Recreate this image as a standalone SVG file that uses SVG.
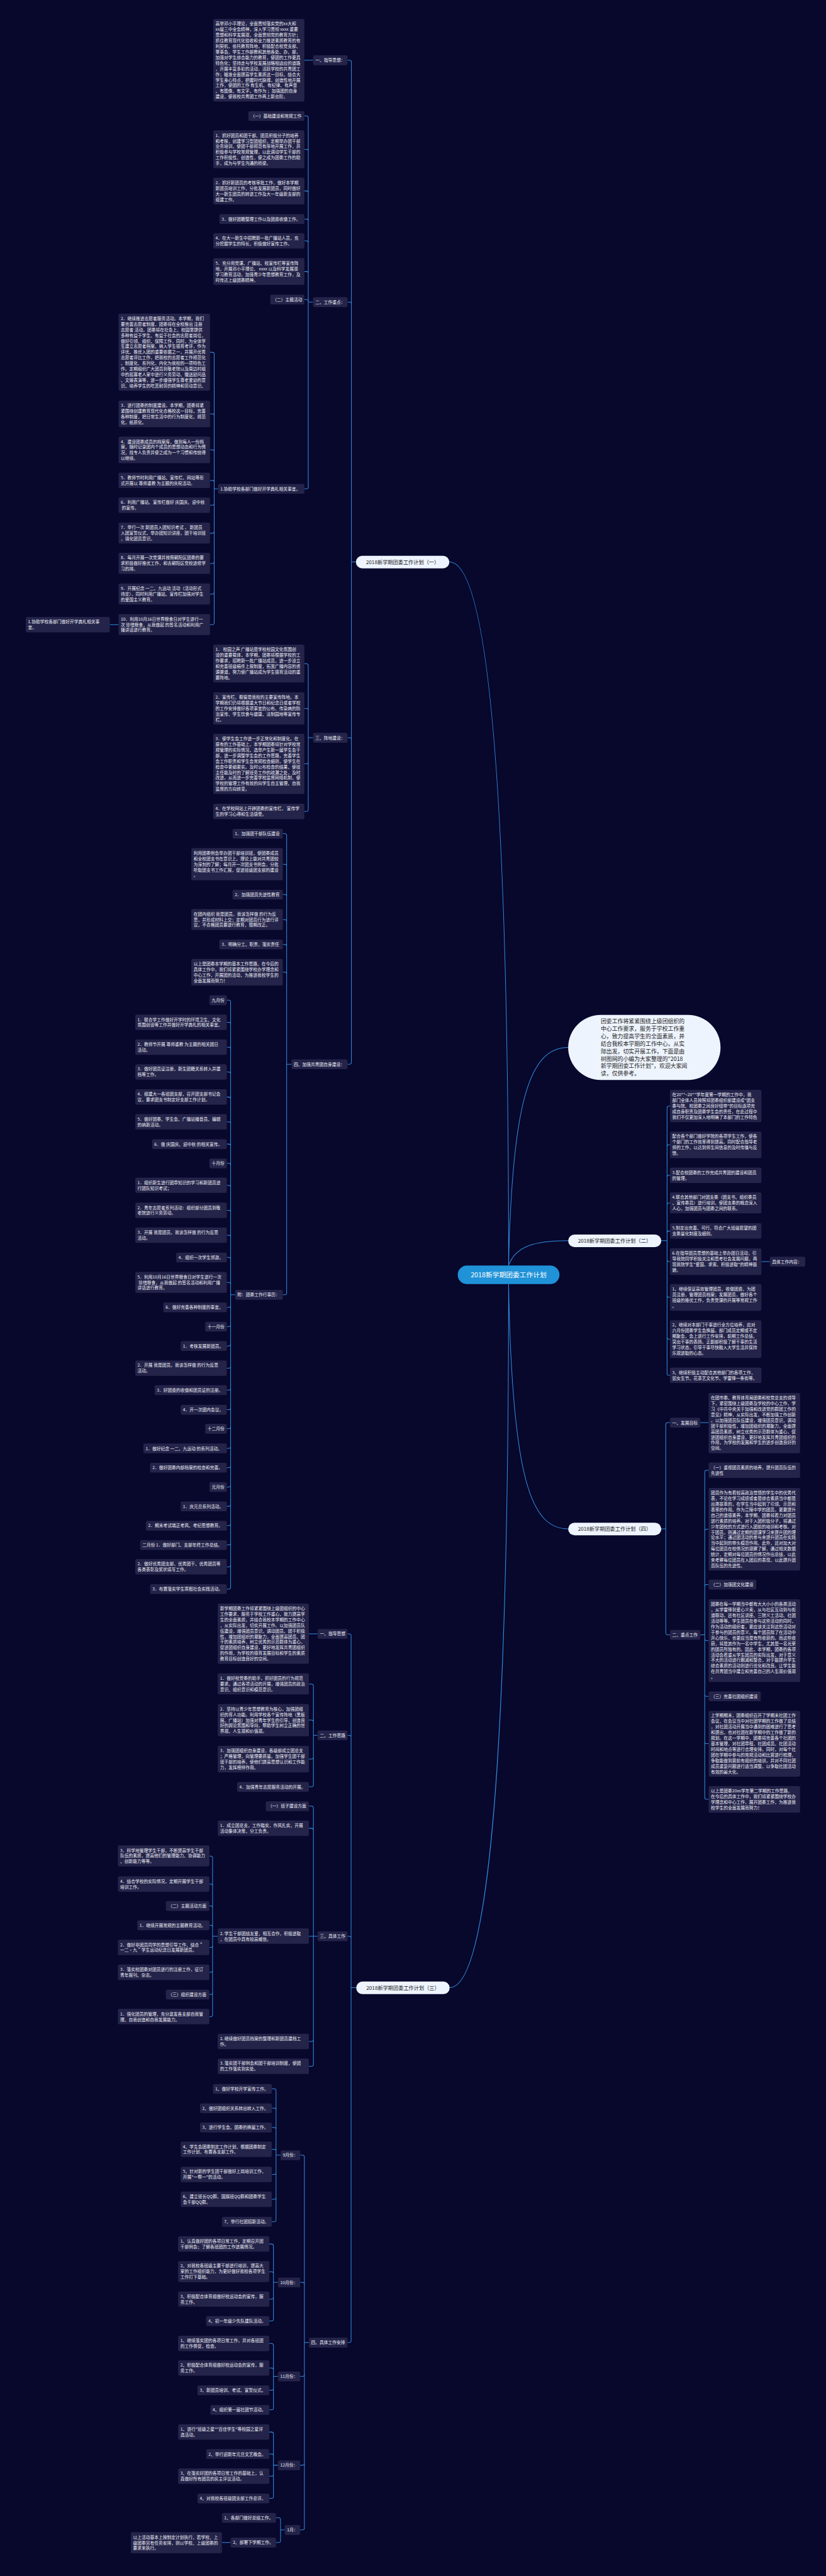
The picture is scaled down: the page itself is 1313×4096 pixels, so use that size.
<svg xmlns="http://www.w3.org/2000/svg" width="1313" height="4096" viewBox="0 0 1313 4096">
<style>
.n rect{fill:#242349;rx:5px;ry:5px}
.n text{font-family:"Noto Sans CJK SC","Noto Sans",sans-serif;font-size:13.2px;fill:#eef0f7}
.c path{fill:none;stroke:#2f8fe0;stroke-width:2}
.lb rect{fill:#eef4fd}
.lb text{font-family:"Noto Sans CJK SC","Noto Sans",sans-serif;font-size:16px;fill:#222;text-anchor:middle}
.ce rect{fill:#1f92d8}
.ce text{font-family:"Noto Sans CJK SC","Noto Sans",sans-serif;font-size:21px;fill:#fff;text-anchor:middle}
.in rect{fill:#eef4fd}
.in text{font-family:"Noto Sans CJK SC","Noto Sans",sans-serif;font-size:17.4px;fill:#222}
</style>
<rect width="1313" height="4096" fill="#08072c"/>
<g transform="scale(0.512)">
<g class="c" id="connectors">
<path d="M1579,3930 C1579,2500 1520,1745 1395,1745"/>
<path d="M1579,3930 C1590,3400 1650,3253 1764,3253"/>
<path d="M1579,3930 C1600,3870 1660,3853 1764,3853"/>
<path d="M1579,3988 C1590,4600 1650,4748 1764,4748"/>
<path d="M1579,3988 C1579,5400 1520,6173 1396,6173"/>
<!-- branch 1 -->
<path d="M1105,1745H1091M1091,193V3299M1091,193Q1091,187 1085,187H1079M1091,944Q1091,938 1085,938H1079M1091,2297Q1091,2291 1085,2291H1079M1091,3299Q1091,3305 1085,3305H1079"/>
<path d="M972,187H945"/>
<path d="M972,938H957M957,366V1512M957,366Q957,360 951,360H945M957,470Q957,464 951,464H945M957,599Q957,593 951,593H945M957,686Q957,680 951,680H945M957,754Q957,748 951,748H945M957,849Q957,843 951,843H945M957,936Q957,930 951,930H945M957,1512Q957,1518 951,1518H945"/>
<path d="M677,1518H665M665,1100V1934M665,1100Q665,1094 659,1094H652M665,1291Q665,1285 659,1285H652M665,1403Q665,1397 659,1397H652M665,1498Q665,1492 659,1492H652M665,1563Q665,1569 659,1569H652M665,1650Q665,1656 659,1656H652M665,1744Q665,1750 659,1750H652M665,1839Q665,1845 659,1845H652M665,1934Q665,1940 659,1940H652"/>
<path d="M368,1940H341"/>
<path d="M972,2291H957M957,2067V2514M957,2067Q957,2061 951,2061H945M957,2206Q957,2200 951,2200H945M957,2366Q957,2372 951,2372H945M957,2514Q957,2520 951,2520H945"/>
<path d="M905,3305H890M890,2595V4015M890,2595Q890,2589 884,2589H878M890,2690Q890,2684 884,2684H878M890,2784Q890,2778 884,2778H878M890,2862Q890,2856 884,2856H878M890,2939Q890,2933 884,2933H878M890,3025Q890,3019 884,3019H878M890,4015Q890,4021 884,4021H878"/>
<path d="M730,4021H716M716,3112V4929M716,3112Q716,3106 710,3106H704M716,3181Q716,3175 710,3175H704M716,3258Q716,3252 710,3252H704M716,3335Q716,3329 710,3329H704M716,3413Q716,3407 710,3407H704M716,3490Q716,3484 710,3484H704M716,3559Q716,3553 710,3553H704M716,3619Q716,3613 710,3613H704M716,3687Q716,3681 710,3681H704M716,3765Q716,3759 710,3759H704M716,3842Q716,3836 710,3836H704M716,3911Q716,3905 710,3905H704M716,3989Q716,3983 710,3983H704M716,4054Q716,4060 710,4060H704M716,4114Q716,4120 710,4120H704M716,4174Q716,4180 710,4180H704M716,4243Q716,4249 710,4249H704M716,4311Q716,4317 710,4317H704M716,4372Q716,4378 710,4378H704M716,4431Q716,4437 710,4437H704M716,4492Q716,4498 710,4498H704M716,4552Q716,4558 710,4558H704M716,4612Q716,4618 710,4618H704M716,4672Q716,4678 710,4678H704M716,4732Q716,4738 710,4738H704M716,4792Q716,4798 710,4798H704M716,4860Q716,4866 710,4866H704M716,4929Q716,4935 710,4935H704"/>
<!-- branch 2 -->
<path d="M2053,3853H2071M2071,3441V4265M2071,3441Q2071,3435 2077,3435H2080M2071,3561Q2071,3555 2077,3555H2080M2071,3656Q2071,3650 2077,3650H2080M2071,3742Q2071,3736 2077,3736H2080M2071,3829Q2071,3823 2077,3823H2080M2071,3912Q2071,3918 2077,3918H2080M2071,4023Q2071,4029 2077,4029H2080M2071,4153Q2071,4159 2077,4159H2080M2071,4265Q2071,4271 2077,4271H2080"/>
<path d="M2364,3918H2390"/>
<!-- branch 4 -->
<path d="M2053,4748H2067M2067,4424V5071M2067,4424Q2067,4418 2073,4418H2080M2067,5071Q2067,5077 2073,5077H2080"/>
<path d="M2174,4418H2200"/>
<path d="M2174,5077H2188M2188,4572V5582M2188,4572Q2188,4566 2194,4566H2200M2188,4755Q2188,4749 2194,4749H2200M2188,4927Q2188,4921 2194,4921H2200M2188,5089Q2188,5095 2194,5095H2200M2188,5262Q2188,5268 2194,5268H2200M2188,5409Q2188,5415 2194,5415H2200M2188,5582Q2188,5588 2194,5588H2200"/>
<!-- branch 3 -->
<path d="M1106,6173H1090M1090,5080V7269M1090,5080Q1090,5074 1084,5074H1079M1090,5395Q1090,5389 1084,5389H1079M1090,6019Q1090,6013 1084,6013H1079M1090,7269Q1090,7275 1084,7275H1079"/>
<path d="M986,5074H959"/>
<path d="M986,5389H973M973,5236V5543M973,5236Q973,5230 967,5230H959M973,5348Q973,5342 967,5342H959M973,5457Q973,5463 967,5463H959M973,5543Q973,5549 967,5549H959"/>
<path d="M986,6013H973M973,5615V6411M973,5615Q973,5609 967,5609H959M973,5684Q973,5678 967,5678H959M973,6013H959M973,6334Q973,6340 967,6340H959M973,6411Q973,6417 967,6417H959"/>
<path d="M676,6013H660M660,5770V6257M660,5770Q660,5764 654,5764H650M660,5857Q660,5851 654,5851H650M660,5925Q660,5919 654,5919H650M660,5985Q660,5979 654,5979H650M660,6042Q660,6048 654,6048H650M660,6119Q660,6125 654,6125H650M660,6188Q660,6194 654,6194H650M660,6257Q660,6263 654,6263H650"/>
<path d="M959,7275H945M945,6699V7851M945,6699Q945,6693 939,6693H932M945,7094Q945,7088 939,7088H932M945,7374Q945,7380 939,7380H932M945,7650Q945,7656 939,7656H932M945,7851Q945,7857 939,7857H932"/>
<path d="M871,6693H857M857,6493V6894M857,6493Q857,6487 851,6487H844M857,6553Q857,6547 851,6547H844M857,6613Q857,6607 851,6607H844M857,6681Q857,6675 851,6675H844M857,6747Q857,6753 851,6753H844M857,6824Q857,6830 851,6830H844M857,6894Q857,6900 851,6900H844"/>
<path d="M863,7088H849M849,6975V7202M849,6975Q849,6969 843,6969H836M849,7061Q849,7055 843,7055H836M849,7134Q849,7140 843,7140H836M849,7202Q849,7208 843,7208H836"/>
<path d="M863,7380H849M849,7284V7478M849,7284Q849,7278 843,7278H836M849,7360Q849,7354 843,7354H836M849,7417Q849,7423 843,7423H836M849,7478Q849,7484 843,7484H836"/>
<path d="M863,7656H849M849,7559V7753M849,7559Q849,7553 843,7553H836M849,7627Q849,7621 843,7621H836M849,7684Q849,7690 843,7690H836M849,7753Q849,7759 843,7759H836"/>
<path d="M884,7857H871M871,7825V7890M871,7825Q871,7819 865,7819H857M871,7890Q871,7896 865,7896H857"/>
<path d="M716,7896H689"/>
</g>

<g id="center" class="ce"><rect x="1421" y="3930" width="316" height="58" rx="29"/><text x="1579" y="3966">2018新学期团委工作计划</text></g>
<g id="intro" class="in"><rect x="1764" y="3152" width="473" height="202" rx="101"/><text x="1865" y="3178"><tspan x="1865">团委工作将紧紧围绕上级团组织的</tspan><tspan x="1865" dy="23.2">中心工作要求，服务于学校工作重</tspan><tspan x="1865" dy="23.2">心，致力提高学生的全面素质，并</tspan><tspan x="1865" dy="23.2">结合我校本学期的工作中心，从实</tspan><tspan x="1865" dy="23.2">际出发，切实开展工作，下面是由</tspan><tspan x="1865" dy="23.2">树图网的小编为大家整理的"2018</tspan><tspan x="1865" dy="23.2">新学期团委工作计划"，欢迎大家阅</tspan><tspan x="1865" dy="23.2">读，仅供参考。</tspan></text></g>
<g id="b1" class="lb"><rect x="1105" y="1726" width="290" height="39" rx="19.5"/><text x="1250" y="1751">2018新学期团委工作计划（一）</text></g>
<g id="b2" class="lb"><rect x="1764" y="3834" width="289" height="39" rx="19.5"/><text x="1908" y="3859">2018新学期团委工作计划（二）</text></g>
<g id="b3" class="lb"><rect x="1106" y="6154" width="290" height="39" rx="19.5"/><text x="1251" y="6179">2018新学期团委工作计划（三）</text></g>
<g id="b4" class="lb"><rect x="1764" y="4729" width="289" height="39" rx="19.5"/><text x="1908" y="4754">2018新学期团委工作计划（四）</text></g>

<!-- Branch 1 nodes -->
<g id="a1" class="n" transform="translate(972,172)"><rect width="107" height="30.4"/><text x="7" y="20">一、指导思想：</text></g>
<g id="a1t" class="n" transform="translate(662,59)"><rect width="283" height="256.6"/><text x="7" y="20"><tspan x="7">高举邓小平理论，全面贯彻落实党的xx大和</tspan><tspan x="7" dy="17.4">xx届三中全会精神，深入学习贯彻 xxxx 重要</tspan><tspan x="7" dy="17.4">思想和科学发展观，全面贯彻党的教育方针；</tspan><tspan x="7" dy="17.4">抓住教育现代化验收和全力推进素质教育的有</tspan><tspan x="7" dy="17.4">利契机，依托教育阵地，积极配合校党支部、</tspan><tspan x="7" dy="17.4">董事会、学生工作部教和其他各处、办、部，</tspan><tspan x="7" dy="17.4">加强对学生综合能力的教育，使团的工作更具</tspan><tspan x="7" dy="17.4">特色化；坚持走与学校发展战略相适应的道路</tspan><tspan x="7" dy="17.4">，开展丰富多彩的活动，活跃学校的共青团工</tspan><tspan x="7" dy="17.4">作；瞄准全面提高学生素质这一目标，结合大</tspan><tspan x="7" dy="17.4">学生身心特点，把握时代脉搏，创造性地开展</tspan><tspan x="7" dy="17.4">工作，使团的工作 有生机、有纪律、有声音</tspan><tspan x="7" dy="17.4">、有图像、有文字、有作为 ；加强团的自身</tspan><tspan x="7" dy="17.4">建设，使我校共青团工作再上新台阶。</tspan></text></g>
<g id="a2" class="n" transform="translate(972,923)"><rect width="107" height="30.4"/><text x="7" y="20">二、工作重点：</text></g>
<g id="a21" class="n" transform="translate(771,345)"><rect width="174" height="30.4"/><text x="7" y="20">（一）基础建设和常规工作</text></g>
<g id="a22" class="n" transform="translate(662,405)"><rect width="283" height="117.4"/><text x="7" y="20"><tspan x="7">1．抓好团员和团干部、团员积极分子的培养</tspan><tspan x="7" dy="17.4">和考核，创建学习型团组织，定期举办团干部</tspan><tspan x="7" dy="17.4">业务培训，使团干部规范有序地开展工作，并</tspan><tspan x="7" dy="17.4">积极参与学校常规管理，以此调动学生干部的</tspan><tspan x="7" dy="17.4">工作积极性、创造性，使之成为团委工作的助</tspan><tspan x="7" dy="17.4">手，成为与学生沟通的桥梁。</tspan></text></g>
<g id="a23" class="n" transform="translate(662,552)"><rect width="283" height="82.6"/><text x="7" y="20"><tspan x="7">2．抓好新团员的考核审批工作，做好本学期</tspan><tspan x="7" dy="17.4">新团员培训工作，分批发展新团员，同时做好</tspan><tspan x="7" dy="17.4">大一新生团员的转进工作及大一年级新支部的</tspan><tspan x="7" dy="17.4">组建工作。</tspan></text></g>
<g id="a24" class="n" transform="translate(681,665)"><rect width="264" height="30.4"/><text x="7" y="20">3．做好团籍整理工作以及团费收缴工作。</text></g>
<g id="a25" class="n" transform="translate(662,724)"><rect width="283" height="47.8"/><text x="7" y="20"><tspan x="7">4．在大一新生中招聘新一批广播站人员，充</tspan><tspan x="7" dy="17.4">分挖掘学生的特长，积极做好宣传工作。</tspan></text></g>
<g id="a26" class="n" transform="translate(662,802)"><rect width="283" height="82.6"/><text x="7" y="20"><tspan x="7">5．充分用党课、广播站、校宣传栏等宣传阵</tspan><tspan x="7" dy="17.4">地，开展邓小平理论、 xxxx 以及科学发展观</tspan><tspan x="7" dy="17.4">学习教育活动，加强青少年思想教育工作，及</tspan><tspan x="7" dy="17.4">时传达上级团委精神。</tspan></text></g>
<g id="a27" class="n" transform="translate(839,915)"><rect width="106" height="30.4"/><text x="7" y="20">（二）主题活动</text></g>
<g id="a28" class="n" transform="translate(677,1503)"><rect width="268" height="30.4"/><text x="7" y="20">1.协助学校各部门做好开学典礼相关事宜。</text></g>
<g id="a281" class="n" transform="translate(368,974)"><rect width="284" height="239.2"/><text x="7" y="20"><tspan x="7">2．继续推进志愿者服务活动。本学期，我们</tspan><tspan x="7" dy="17.4">要完善志愿者制度，团委将在全校推出 注册</tspan><tspan x="7" dy="17.4">志愿者 活动。团委将在社会上、校园里提供</tspan><tspan x="7" dy="17.4">多种有益于学生、有益于社会的志愿者岗位，</tspan><tspan x="7" dy="17.4">做好引领、组织、保障工作，同时，为全体学</tspan><tspan x="7" dy="17.4">生建立志愿者档案，纳入学生德育考评，作为</tspan><tspan x="7" dy="17.4">评优、推优入团的重要依据之一，并展开优秀</tspan><tspan x="7" dy="17.4">志愿者评比工作，把我校的志愿者工作规范化</tspan><tspan x="7" dy="17.4">、制度化、系列化，内化为我校的一项特色工</tspan><tspan x="7" dy="17.4">作。定期组织广大团员到敬老院以及周边村组</tspan><tspan x="7" dy="17.4">中的孤寡老人家中进行义务劳动、赠送慰问品</tspan><tspan x="7" dy="17.4">、文娱表演等，进一步增强学生尊老爱幼的意</tspan><tspan x="7" dy="17.4">识、培养学生的吃苦耐劳的精神和劳动意识。</tspan></text></g>
<g id="a282" class="n" transform="translate(368,1244)"><rect width="284" height="82.6"/><text x="7" y="20"><tspan x="7">3．进行团委的制度建设。本学期，团委将紧</tspan><tspan x="7" dy="17.4">紧围绕创建教育现代化合格校这一目标，完善</tspan><tspan x="7" dy="17.4">各种制度，把日常生活中的行为制度化，规范</tspan><tspan x="7" dy="17.4">化，纸质化。</tspan></text></g>
<g id="a283" class="n" transform="translate(368,1356)"><rect width="284" height="82.6"/><text x="7" y="20"><tspan x="7">4．建设团委成员的档案库，做到每人一份档</tspan><tspan x="7" dy="17.4">案，随时记录团内个成员的思想动态和行为情</tspan><tspan x="7" dy="17.4">况，找专人负责并使之成为一个习惯和传统得</tspan><tspan x="7" dy="17.4">以继续。</tspan></text></g>
<g id="a284" class="n" transform="translate(368,1468)"><rect width="284" height="47.8"/><text x="7" y="20"><tspan x="7">5．教师节时利用广播站、宣传栏、网站等形</tspan><tspan x="7" dy="17.4">式开展以 尊师重教 为主题的庆祝活动。</tspan></text></g>
<g id="a285" class="n" transform="translate(368,1545)"><rect width="284" height="47.8"/><text x="7" y="20"><tspan x="7">6．利用广播站、宣传栏做好 庆国庆、迎中秋</tspan><tspan x="7" dy="17.4"> 的宣传。</tspan></text></g>
<g id="a286" class="n" transform="translate(368,1623)"><rect width="284" height="65.2"/><text x="7" y="20"><tspan x="7">7．举行一次 新团员入团知识考试 ， 新团员</tspan><tspan x="7" dy="17.4">入团宣誓仪式，举办团知识讲座，团干培训班</tspan><tspan x="7" dy="17.4">，强化团员意识。</tspan></text></g>
<g id="a287" class="n" transform="translate(368,1717)"><rect width="284" height="65.2"/><text x="7" y="20"><tspan x="7">8．每月开展一次党课并按照朝阳区团委的要</tspan><tspan x="7" dy="17.4">求积极做好推优工作，和去朝阳区党校进修学</tspan><tspan x="7" dy="17.4">习的排。</tspan></text></g>
<g id="a288" class="n" transform="translate(368,1812)"><rect width="284" height="65.2"/><text x="7" y="20"><tspan x="7">9．开展纪念 一二、九运动 活动（活动形式</tspan><tspan x="7" dy="17.4">待定），同时利用广播站、宣传栏加强对学生</tspan><tspan x="7" dy="17.4">的爱国主义教育。</tspan></text></g>
<g id="a289" class="n" transform="translate(368,1907)"><rect width="284" height="65.2"/><text x="7" y="20"><tspan x="7">10．利用10月16日世界粮食日对学生进行一</tspan><tspan x="7" dy="17.4">次 珍惜粮食，从我做起 的签名活动和利用广</tspan><tspan x="7" dy="17.4">播讲话进行教育。</tspan></text></g>
<g id="a2891" class="n" transform="translate(80,1916)"><rect width="261" height="47.8"/><text x="7" y="20"><tspan x="7">1.协助学校各部门做好开学典礼相关事</tspan><tspan x="7" dy="17.4">宜。</tspan></text></g>
<g id="a3" class="n" transform="translate(972,2276)"><rect width="107" height="30.4"/><text x="7" y="20">三、阵地建设：</text></g>
<g id="a31" class="n" transform="translate(662,2002)"><rect width="283" height="117.4"/><text x="7" y="20"><tspan x="7">1． 校园之声 广播站是学校校园文化氛围创</tspan><tspan x="7" dy="17.4">设的重要载体，本学期，团委将根据学校的工</tspan><tspan x="7" dy="17.4">作要求，招聘新一批广播站成员，进一步设立</tspan><tspan x="7" dy="17.4">和完善班级稿件上报制度，拓宽广播内容的资</tspan><tspan x="7" dy="17.4">源渠道，努力使广播站成为学生德育活动的重</tspan><tspan x="7" dy="17.4">要阵地。</tspan></text></g>
<g id="a32" class="n" transform="translate(662,2150)"><rect width="283" height="100"/><text x="7" y="20"><tspan x="7">2．宣传栏、橱窗是我校的主要宣传阵地。本</tspan><tspan x="7" dy="17.4">学期我们仍将根据重大节日和纪念日或者学校</tspan><tspan x="7" dy="17.4">的工作安排做好各项事宜的公布、传染病的防</tspan><tspan x="7" dy="17.4">治宣传、学生饮食与健康、法制园地等宣传专</tspan><tspan x="7" dy="17.4">栏。</tspan></text></g>
<g id="a33" class="n" transform="translate(662,2279)"><rect width="283" height="187"/><text x="7" y="20"><tspan x="7">3．使学生会工作进一步正常化和制度化。在</tspan><tspan x="7" dy="17.4">原有的工作基础上，本学期团委将针对学校常</tspan><tspan x="7" dy="17.4">规管理的实际情况，选举产生新一届学生会干</tspan><tspan x="7" dy="17.4">部，进一步调整学生会的工作思路，完善学生</tspan><tspan x="7" dy="17.4">会工作职责和学生会常规检查细则，使学生在</tspan><tspan x="7" dy="17.4">检查中更细更实。及时公布检查的结果，使班</tspan><tspan x="7" dy="17.4">主任能及时的了解班务工作的疏漏之处，及时</tspan><tspan x="7" dy="17.4">改进。从而进一步完善学校监督网络机制，使</tspan><tspan x="7" dy="17.4">学校的管理工作有效的向学生自主管理、自我</tspan><tspan x="7" dy="17.4">监督的方向转变。</tspan></text></g>
<g id="a34" class="n" transform="translate(662,2496)"><rect width="283" height="47.8"/><text x="7" y="20"><tspan x="7">4．在学校网站上开辟团委的宣传栏， 宣传学</tspan><tspan x="7" dy="17.4">生的学习心得和生活感受。</tspan></text></g>
<g id="a4" class="n" transform="translate(905,3290)"><rect width="174" height="30.4"/><text x="7" y="20">四、加强共青团自身建设：</text></g>
<g id="a41" class="n" transform="translate(722,2574)"><rect width="156" height="30.4"/><text x="7" y="20">1．加强团干部队伍建设</text></g>
<g id="a42" class="n" transform="translate(594,2634)"><rect width="284" height="100"/><text x="7" y="20"><tspan x="7">利用团委例会举办团干部培训班，使团委成员</tspan><tspan x="7" dy="17.4">和全校团支书在意识上、理论上能对共青团较</tspan><tspan x="7" dy="17.4">为深刻的了解；每月开一次团支书例会，分批</tspan><tspan x="7" dy="17.4">听取团支书工作汇报，促进班级团支部的建设</tspan><tspan x="7" dy="17.4">。</tspan></text></g>
<g id="a43" class="n" transform="translate(722,2763)"><rect width="156" height="30.4"/><text x="7" y="20">2．加强团员先进性教育</text></g>
<g id="a44" class="n" transform="translate(594,2823)"><rect width="284" height="65.2"/><text x="7" y="20"><tspan x="7">在团内组织 我是团员，我该怎样做 的行为反</tspan><tspan x="7" dy="17.4">思，并形成材料上交；定期对团员行为进行评</tspan><tspan x="7" dy="17.4">议，不合格团员要进行教育，限期改正。</tspan></text></g>
<g id="a45" class="n" transform="translate(681,2918)"><rect width="197" height="30.4"/><text x="7" y="20">3．明确分工、职责，落实责任</text></g>
<g id="a46" class="n" transform="translate(594,2978)"><rect width="284" height="82.6"/><text x="7" y="20"><tspan x="7">以上是团委本学期的基本工作思路，在今后的</tspan><tspan x="7" dy="17.4">具体工作中，我们将紧紧围绕学校办学理念和</tspan><tspan x="7" dy="17.4">中心工作，开展团的活动，为推进我校学生的</tspan><tspan x="7" dy="17.4">全面发展而努力！</tspan></text></g>
<g id="a47" class="n" transform="translate(730,4006)"><rect width="148" height="30.4"/><text x="7" y="20">附：团委工作行事历：</text></g>
<g id="m9" class="n" transform="translate(650,3091)"><rect width="54" height="30.4"/><text x="7" y="20">九月份</text></g>
<g id="m91" class="n" transform="translate(420,3151)"><rect width="284" height="47.8"/><text x="7" y="20"><tspan x="7">1．联合学工作做好开学时的环境卫生、文化</tspan><tspan x="7" dy="17.4">氛围创设等工作并做好开学典礼的相关事宜。</tspan></text></g>
<g id="m92" class="n" transform="translate(420,3228)"><rect width="284" height="47.8"/><text x="7" y="20"><tspan x="7">2．教师节开展 尊师重教 为主题的相关团日</tspan><tspan x="7" dy="17.4">活动。</tspan></text></g>
<g id="m93" class="n" transform="translate(420,3305)"><rect width="284" height="47.8"/><text x="7" y="20"><tspan x="7">3．做好团员证注册，新生团籍关系转入并建</tspan><tspan x="7" dy="17.4">档等工作。</tspan></text></g>
<g id="m94" class="n" transform="translate(420,3383)"><rect width="284" height="47.8"/><text x="7" y="20"><tspan x="7">4．组建大一各班团支部，召开团支部书记会</tspan><tspan x="7" dy="17.4">议，要求团支书制定好支部工作计划。</tspan></text></g>
<g id="m95" class="n" transform="translate(420,3460)"><rect width="284" height="47.8"/><text x="7" y="20"><tspan x="7">5．做好团委、学生会、广播站播音员、编辑</tspan><tspan x="7" dy="17.4">的纳新活动。</tspan></text></g>
<g id="m96" class="n" transform="translate(472,3538)"><rect width="232" height="30.4"/><text x="7" y="20">6．做 庆国庆、迎中秋 的相关宣传。</text></g>
<g id="m10" class="n" transform="translate(650,3598)"><rect width="54" height="30.4"/><text x="7" y="20">十月份</text></g>
<g id="m101" class="n" transform="translate(420,3657)"><rect width="284" height="47.8"/><text x="7" y="20"><tspan x="7">1．组织新生进行团章知识的学习和新团员进</tspan><tspan x="7" dy="17.4">行团队知识考试；</tspan></text></g>
<g id="m102" class="n" transform="translate(420,3735)"><rect width="284" height="47.8"/><text x="7" y="20"><tspan x="7">2．青年志愿者系列活动：组织部分团员到敬</tspan><tspan x="7" dy="17.4">老院进行义务劳动。</tspan></text></g>
<g id="m103" class="n" transform="translate(420,3812)"><rect width="284" height="47.8"/><text x="7" y="20"><tspan x="7">3．开展 我是团员，我该怎样做 的行为反思</tspan><tspan x="7" dy="17.4">活动。</tspan></text></g>
<g id="m104" class="n" transform="translate(547,3890)"><rect width="157" height="30.4"/><text x="7" y="20">4．组织一次学生郊游。</text></g>
<g id="m105" class="n" transform="translate(420,3950)"><rect width="284" height="65.2"/><text x="7" y="20"><tspan x="7">5．利用10月16日世界粮食日对学生进行一次</tspan><tspan x="7" dy="17.4"> 珍惜粮食，从我做起 的签名活动和利用广播</tspan><tspan x="7" dy="17.4">讲话进行教育。</tspan></text></g>
<g id="m106" class="n" transform="translate(507,4045)"><rect width="197" height="30.4"/><text x="7" y="20">6．做好完善各种制度的事宜。</text></g>
<g id="m11" class="n" transform="translate(637,4105)"><rect width="67" height="30.4"/><text x="7" y="20">十一月份</text></g>
<g id="m111" class="n" transform="translate(561,4165)"><rect width="143" height="30.4"/><text x="7" y="20">1．考核发展新团员。</text></g>
<g id="m112" class="n" transform="translate(420,4225)"><rect width="284" height="47.8"/><text x="7" y="20"><tspan x="7">2．开展 我是团员，我该怎样做 的行为反思</tspan><tspan x="7" dy="17.4">活动。</tspan></text></g>
<g id="m113" class="n" transform="translate(480,4302)"><rect width="224" height="30.4"/><text x="7" y="20">3．好团费的收缴和团员证的注册。</text></g>
<g id="m114" class="n" transform="translate(561,4363)"><rect width="143" height="30.4"/><text x="7" y="20">4．开一次团内会议。</text></g>
<g id="m12" class="n" transform="translate(637,4422)"><rect width="67" height="30.4"/><text x="7" y="20">十二月份</text></g>
<g id="m121" class="n" transform="translate(445,4483)"><rect width="259" height="30.4"/><text x="7" y="20">1．做好纪念 一二、九运动 的系列活动。</text></g>
<g id="m122" class="n" transform="translate(466,4543)"><rect width="238" height="30.4"/><text x="7" y="20">2．做好团委内部档案的检查和完善。</text></g>
<g id="m1" class="n" transform="translate(650,4603)"><rect width="54" height="30.4"/><text x="7" y="20">元月份</text></g>
<g id="m1a" class="n" transform="translate(561,4663)"><rect width="143" height="30.4"/><text x="7" y="20">1．庆元旦系列活动。</text></g>
<g id="m1b" class="n" transform="translate(453,4723)"><rect width="251" height="30.4"/><text x="7" y="20">2．期末考试端正考风、考纪思想教育。</text></g>
<g id="m2a" class="n" transform="translate(435,4783)"><rect width="269" height="30.4"/><text x="7" y="20">二月份 1．做好部门、支部年终工作总结。</text></g>
<g id="m2b" class="n" transform="translate(420,4842)"><rect width="284" height="47.8"/><text x="7" y="20"><tspan x="7">2．做好优秀团支部、优秀团干、优秀团员等</tspan><tspan x="7" dy="17.4">各类表彰及奖状填写工作。</tspan></text></g>
<g id="m2c" class="n" transform="translate(466,4920)"><rect width="238" height="30.4"/><text x="7" y="20">3．布置落实学生寒假社会实践活动。</text></g>

<!-- Branch 2 nodes -->
<g id="c1" class="n" transform="translate(2080,3385)"><rect width="284" height="100"/><text x="7" y="20"><tspan x="7">在20**~20**学年度第一学期的工作中，我</tspan><tspan x="7" dy="17.4">部门全体人员按照将团委组织部建设成"团支</tspan><tspan x="7" dy="17.4">委与院、校团委之间良好纽带"的目标逐项完</tspan><tspan x="7" dy="17.4">成自身职责及团委学生会的责任，在此过程中</tspan><tspan x="7" dy="17.4">我们不仅更加深入地明确了本部门的工作特色</tspan></text></g>
<g id="c2" class="n" transform="translate(2080,3514)"><rect width="284" height="82.6"/><text x="7" y="20"><tspan x="7">配合各个部门做好学院的各项学生工作，使各</tspan><tspan x="7" dy="17.4">个部门的工作效率得到提高。同时配合指导老</tspan><tspan x="7" dy="17.4">师的工作，以达到师生间信息的及时传播与反</tspan><tspan x="7" dy="17.4">馈。</tspan></text></g>
<g id="c3" class="n" transform="translate(2080,3626)"><rect width="284" height="47.8"/><text x="7" y="20"><tspan x="7">3.配合校团委的工作完成共青团的建设和团员</tspan><tspan x="7" dy="17.4">的管理。</tspan></text></g>
<g id="c4" class="n" transform="translate(2080,3703)"><rect width="284" height="65.2"/><text x="7" y="20"><tspan x="7">4.联合其他部门对团支委（团支书、组织委员</tspan><tspan x="7" dy="17.4">、宣传委员）进行培训，使团支委的概念深入</tspan><tspan x="7" dy="17.4">人心，加强团员与团委之间的联系。</tspan></text></g>
<g id="c5" class="n" transform="translate(2080,3799)"><rect width="284" height="47.8"/><text x="7" y="20"><tspan x="7">5.制定出完善、可行、符合广大班级愿望的团</tspan><tspan x="7" dy="17.4">支委量化制度及细则。</tspan></text></g>
<g id="c6" class="n" transform="translate(2080,3877)"><rect width="284" height="82.6"/><text x="7" y="20"><tspan x="7">6.在指导团员思想的基础上举办团日活动，引</tspan><tspan x="7" dy="17.4">导我院同学积极关注和思考社会发展问题，再</tspan><tspan x="7" dy="17.4">现我院学生"爱国、求索、积极进取"的精神面</tspan><tspan x="7" dy="17.4">貌。</tspan></text></g>
<g id="c61" class="n" transform="translate(2390,3903)"><rect width="110" height="30.4"/><text x="7" y="20">具体工作内容：</text></g>
<g id="c7" class="n" transform="translate(2080,3988)"><rect width="284" height="82.6"/><text x="7" y="20"><tspan x="7">1、继续保证高效管理团员，收缴团费，为团</tspan><tspan x="7" dy="17.4">员注册，管理团员档案；发展团员，做好各个</tspan><tspan x="7" dy="17.4">班级的推优工作，负责党课的开展等常规工作</tspan><tspan x="7" dy="17.4">。</tspan></text></g>
<g id="c8" class="n" transform="translate(2080,4100)"><rect width="284" height="117.4"/><text x="7" y="20"><tspan x="7">2、继续对本部门干事进行全方位培养，应对</tspan><tspan x="7" dy="17.4">六月份团委学生会换届。部门成员定期或不定</tspan><tspan x="7" dy="17.4">期聚会，会上进行工作安排，前期工作总结，</tspan><tspan x="7" dy="17.4">突出干事的表扬。正副部积极了解干事的生活</tspan><tspan x="7" dy="17.4">学习状态，引导干事尽快融入大学生活并保持</tspan><tspan x="7" dy="17.4">乐观进取的心态。</tspan></text></g>
<g id="c9" class="n" transform="translate(2080,4247)"><rect width="284" height="47.8"/><text x="7" y="20"><tspan x="7">3、继续积极主动配合其他部门的各项工作，</tspan><tspan x="7" dy="17.4">如女生节、花茶艺文化节、学雷锋一条街等。</tspan></text></g>

<!-- Branch 4 nodes -->
<g id="d1" class="n" transform="translate(2080,4403)"><rect width="94" height="30.4"/><text x="7" y="20">一、发展目标</text></g>
<g id="d1t" class="n" transform="translate(2200,4326)"><rect width="284" height="187"/><text x="7" y="20"><tspan x="7">在团市委、教育体育局团委和校党总支的领导</tspan><tspan x="7" dy="17.4">下，紧密围绕上级团委及学校的中心工作，学</tspan><tspan x="7" dy="17.4">习《中共中央关于加强和改进党的群团工作的</tspan><tspan x="7" dy="17.4">意见》精神，从实际出发，不断加强工作创新</tspan><tspan x="7" dy="17.4">。以加强团员队伍建设，增强团员意识，调动</tspan><tspan x="7" dy="17.4">团干部积极性，增加团组织的凝聚力，全面提</tspan><tspan x="7" dy="17.4">高团员素质，树立优秀的示范群体为重心，促</tspan><tspan x="7" dy="17.4">进团组织自身建设，更好地发挥共青团组织的</tspan><tspan x="7" dy="17.4">作用，为学校的发展和学生的进步创造良好的</tspan><tspan x="7" dy="17.4">空间。</tspan></text></g>
<g id="d2" class="n" transform="translate(2080,5062)"><rect width="94" height="30.4"/><text x="7" y="20">二、重点工作</text></g>
<g id="d21" class="n" transform="translate(2200,4542)"><rect width="284" height="47.8"/><text x="7" y="20"><tspan x="7">（一）重视团员素质的培养，提升团员队伍的</tspan><tspan x="7" dy="17.4">先进性</tspan></text></g>
<g id="d22" class="n" transform="translate(2200,4621)"><rect width="284" height="256.6"/><text x="7" y="20"><tspan x="7">团员作为有着较高政治觉悟的学生中的优秀代</tspan><tspan x="7" dy="17.4">表，不论在学习成绩或者是综合素质当中都是</tspan><tspan x="7" dy="17.4">出类拔萃的，在学生当中起到了引领、示范和</tspan><tspan x="7" dy="17.4">表率的作用。作为兰陵中学的团员，更要提升</tspan><tspan x="7" dy="17.4">自己的道德素养。本学期，团委将着力对团员</tspan><tspan x="7" dy="17.4">进行素质的培养。对于入团积极分子，将通过</tspan><tspan x="7" dy="17.4">少年团校的方式进行入团前的培训和考核。对</tspan><tspan x="7" dy="17.4">于团员，则通过定期的团课学习来提升团的理</tspan><tspan x="7" dy="17.4">论水平；通过团活动的参与来提升团员在实践</tspan><tspan x="7" dy="17.4">当中起到的带头模范作用。此外，还对加大对</tspan><tspan x="7" dy="17.4">每位团员在校情况的观察了解，通过相关数据</tspan><tspan x="7" dy="17.4">统计，定期对每位团员的情况作出总结，以此</tspan><tspan x="7" dy="17.4">来考察每位团员在入团后的表现，以此提升团</tspan><tspan x="7" dy="17.4">员队伍的先进性。</tspan></text></g>
<g id="d23" class="n" transform="translate(2200,4906)"><rect width="148" height="30.4"/><text x="7" y="20">（二）加强团文化建设</text></g>
<g id="d24" class="n" transform="translate(2200,4967)"><rect width="284" height="256.6"/><text x="7" y="20"><tspan x="7">团委在每一学期当中都有大大小小的各类活动</tspan><tspan x="7" dy="17.4">，从学雷锋到爱心义卖，从与社区互动到与街</tspan><tspan x="7" dy="17.4">道联动，还有社区讲座、三院义工活动、社团</tspan><tspan x="7" dy="17.4">活动等等。学生团员在参与这些活动的同时，</tspan><tspan x="7" dy="17.4">作为活动的组织者，更应该关注到这些活动对</tspan><tspan x="7" dy="17.4">于参与的团员的意义。每个团员除了在活动中</tspan><tspan x="7" dy="17.4">开心快乐，也更应当是有所收获的。而这些收</tspan><tspan x="7" dy="17.4">获，将是其作为一名中学生，尤其是一名光荣</tspan><tspan x="7" dy="17.4">的团员所独有的。因此，本学期，团委的各项</tspan><tspan x="7" dy="17.4">活动会着重从学生团员的实际出发，对于意义</tspan><tspan x="7" dy="17.4">不大的活动进行删减和整合，对于能提升学生</tspan><tspan x="7" dy="17.4">综合素质的活动则进行优化和改良。让学生能</tspan><tspan x="7" dy="17.4">在共青团当中建立和完善自己的人生观价值观</tspan><tspan x="7" dy="17.4">。</tspan></text></g>
<g id="d25" class="n" transform="translate(2200,5253)"><rect width="162" height="30.4"/><text x="7" y="20">（三）完善社团组织建设</text></g>
<g id="d26" class="n" transform="translate(2200,5313)"><rect width="284" height="204.4"/><text x="7" y="20"><tspan x="7">上学期期末，团委组织召开了学期末社团工作</tspan><tspan x="7" dy="17.4">会议，在会议当中对社团学期的工作做了总结</tspan><tspan x="7" dy="17.4">，对社团活动开展当中遇到的困难进行了思考</tspan><tspan x="7" dy="17.4">和提出，也对社团在新学期中的工作做了新的</tspan><tspan x="7" dy="17.4">规划。在这一学期中，团委将完善各个社团的</tspan><tspan x="7" dy="17.4">基本管理，对社团章程、社团成员、社团活动</tspan><tspan x="7" dy="17.4">时间和地点等进行合理安排。同时，对每个社</tspan><tspan x="7" dy="17.4">团在学期中参与的常规活动和比赛进行梳理，</tspan><tspan x="7" dy="17.4">争取能做到赛前有组织的培训，并对不同社团</tspan><tspan x="7" dy="17.4">成员重复问题进行适当调整，以争取社团活动</tspan><tspan x="7" dy="17.4">有效的最大化。</tspan></text></g>
<g id="d27" class="n" transform="translate(2200,5547)"><rect width="284" height="82.6"/><text x="7" y="20"><tspan x="7">以上是团委20xx学年第二学期的工作思路，</tspan><tspan x="7" dy="17.4">在今后的具体工作中，我们将紧紧围绕学校办</tspan><tspan x="7" dy="17.4">学理念和中心工作，展开团委工作，为推进我</tspan><tspan x="7" dy="17.4">校学生的全面发展而努力！</tspan></text></g>

<!-- Branch 3 nodes -->
<g id="e1" class="n" transform="translate(986,5059)"><rect width="93" height="30.4"/><text x="7" y="20">一、指导思想</text></g>
<g id="e1t" class="n" transform="translate(676,4980)"><rect width="283" height="187"/><text x="7" y="20"><tspan x="7">新学期团委工作将紧紧围绕上级团组织的中心</tspan><tspan x="7" dy="17.4">工作要求，服务于学校工作重心，致力提高学</tspan><tspan x="7" dy="17.4">生的全面素质，并结合我校本学期的工作中心</tspan><tspan x="7" dy="17.4">，从实际出发，切实开展工作。以加强团员队</tspan><tspan x="7" dy="17.4">伍建设，增强团员意识，调动团员、团干积极</tspan><tspan x="7" dy="17.4">性，增加团组织的凝聚力，全面提高团员、团</tspan><tspan x="7" dy="17.4">干的素质培养，树立优秀的示范群体为重心，</tspan><tspan x="7" dy="17.4">促进团组织自身建设，更好地发挥共青团组织</tspan><tspan x="7" dy="17.4">的作用，为学校的德育发展目标和学生的素质</tspan><tspan x="7" dy="17.4">教育目标创造良好的空间。</tspan></text></g>
<g id="e2" class="n" transform="translate(986,5374)"><rect width="93" height="30.4"/><text x="7" y="20">二、工作思路</text></g>
<g id="e21" class="n" transform="translate(676,5197)"><rect width="283" height="65.2"/><text x="7" y="20"><tspan x="7">1．做好校党委的助手，抓好团员的行为规范</tspan><tspan x="7" dy="17.4">要求。通过各项活动的开展，增强团员的政治</tspan><tspan x="7" dy="17.4">意识、组织意识和模范意识。</tspan></text></g>
<g id="e22" class="n" transform="translate(676,5292)"><rect width="283" height="100"/><text x="7" y="20"><tspan x="7">2．坚持以青少年思想教育为核心，加强团组</tspan><tspan x="7" dy="17.4">织的育人功能。利用学校各个宣传阵地（黑板</tspan><tspan x="7" dy="17.4">报、广播站）加强对青年学生的引导，创造良</tspan><tspan x="7" dy="17.4">好的舆论氛围和导向，帮助学生树立正确的世</tspan><tspan x="7" dy="17.4">界观、人生观和价值观。</tspan></text></g>
<g id="e23" class="n" transform="translate(676,5422)"><rect width="283" height="82.6"/><text x="7" y="20"><tspan x="7">3．加强团组织自身建设，各级部成立团总支</tspan><tspan x="7" dy="17.4">；严格管理，向管理要质量。加强学生团干部</tspan><tspan x="7" dy="17.4">班干部的培养，使他们提高思想认识和工作能</tspan><tspan x="7" dy="17.4">力，发挥榜样作用。</tspan></text></g>
<g id="e24" class="n" transform="translate(736,5534)"><rect width="223" height="30.4"/><text x="7" y="20">4．加强青年志愿服务活动的开展。</text></g>
<g id="e3" class="n" transform="translate(986,5998)"><rect width="93" height="30.4"/><text x="7" y="20">三、具体工作</text></g>
<g id="e31" class="n" transform="translate(825,5594)"><rect width="134" height="30.4"/><text x="7" y="20">（一）班子建设方面</text></g>
<g id="e32" class="n" transform="translate(676,5654)"><rect width="283" height="47.8"/><text x="7" y="20"><tspan x="7">1．成立团总支，工作踏实，作风扎实，开展</tspan><tspan x="7" dy="17.4">活动集体决策，分工负责。</tspan></text></g>
<g id="e33" class="n" transform="translate(676,5989)"><rect width="283" height="47.8"/><text x="7" y="20"><tspan x="7">2. 学生干部团结友爱，相互合作，积极进取</tspan><tspan x="7" dy="17.4">，在团员中具有较高威信。</tspan></text></g>
<g id="e331" class="n" transform="translate(366,5731)"><rect width="284" height="65.2"/><text x="7" y="20"><tspan x="7">3．科学地管理学生干部，不断提高学生干部</tspan><tspan x="7" dy="17.4">队伍的素质，提高他们的管理能力、协调能力</tspan><tspan x="7" dy="17.4">、创新能力等等。</tspan></text></g>
<g id="e332" class="n" transform="translate(366,5827)"><rect width="284" height="47.8"/><text x="7" y="20"><tspan x="7">4．结合学校的实际情况，定期开展学生干部</tspan><tspan x="7" dy="17.4">培训工作。</tspan></text></g>
<g id="e333" class="n" transform="translate(515,5904)"><rect width="135" height="30.4"/><text x="7" y="20">（二）主题活动方面</text></g>
<g id="e334" class="n" transform="translate(426,5964)"><rect width="224" height="30.4"/><text x="7" y="20">1．继续开展常规的主题教育活动。</text></g>
<g id="e335" class="n" transform="translate(366,6024)"><rect width="284" height="47.8"/><text x="7" y="20"><tspan x="7">2．做好非团员同学的思想引导工作，结合＂</tspan><tspan x="7" dy="17.4">一二•九＂学生运动纪念日发展新团员。</tspan></text></g>
<g id="e336" class="n" transform="translate(366,6101)"><rect width="284" height="47.8"/><text x="7" y="20"><tspan x="7">3．落实校团委对团员进行的注册工作，征订</tspan><tspan x="7" dy="17.4">青年报刊、杂志。</tspan></text></g>
<g id="e337" class="n" transform="translate(515,6179)"><rect width="135" height="30.4"/><text x="7" y="20">（三）组织建设方面</text></g>
<g id="e338" class="n" transform="translate(366,6239)"><rect width="284" height="47.8"/><text x="7" y="20"><tspan x="7">1．强化团员的管理，充分激发各支部自我管</tspan><tspan x="7" dy="17.4">理、自我创造和自我发展能力。</tspan></text></g>
<g id="e34" class="n" transform="translate(676,6316)"><rect width="283" height="47.8"/><text x="7" y="20"><tspan x="7">2. 继续做好团员档案的整理和新团员建档工</tspan><tspan x="7" dy="17.4">作。</tspan></text></g>
<g id="e35" class="n" transform="translate(676,6393)"><rect width="283" height="47.8"/><text x="7" y="20"><tspan x="7">3. 落实团干部例会和团干部培训制度，使团</tspan><tspan x="7" dy="17.4">的工作落实到实处。</tspan></text></g>
<g id="e4" class="n" transform="translate(959,7260)"><rect width="120" height="30.4"/><text x="7" y="20">四、具体工作安排</text></g>
<g id="f9" class="n" transform="translate(871,6678)"><rect width="61" height="30.4"/><text x="7" y="20">9月份：</text></g>
<g id="f91" class="n" transform="translate(661,6472)"><rect width="183" height="30.4"/><text x="7" y="20">1、做好学校开学宣传工作。</text></g>
<g id="f92" class="n" transform="translate(621,6532)"><rect width="223" height="30.4"/><text x="7" y="20">2、做好团组织关系转出转入工作。</text></g>
<g id="f93" class="n" transform="translate(621,6592)"><rect width="223" height="30.4"/><text x="7" y="20">3、进行学生会、团委的换届工作。</text></g>
<g id="f94" class="n" transform="translate(561,6651)"><rect width="283" height="47.8"/><text x="7" y="20"><tspan x="7">4、学生会团委制定工作计划，根据团委制定</tspan><tspan x="7" dy="17.4">工作计划，布置各支部工作。</tspan></text></g>
<g id="f95" class="n" transform="translate(561,6729)"><rect width="283" height="47.8"/><text x="7" y="20"><tspan x="7">5、针对新的学生团干部做好上岗培训工作，</tspan><tspan x="7" dy="17.4">开展"一帮一"的活动。</tspan></text></g>
<g id="f96" class="n" transform="translate(561,6806)"><rect width="283" height="47.8"/><text x="7" y="20"><tspan x="7">6、建立班长QQ群、国旗班QQ群和团委学生</tspan><tspan x="7" dy="17.4">会干部QQ群。</tspan></text></g>
<g id="f97" class="n" transform="translate(689,6885)"><rect width="155" height="30.4"/><text x="7" y="20">7、举行社团招新活动。</text></g>
<g id="f10" class="n" transform="translate(863,7073)"><rect width="69" height="30.4"/><text x="7" y="20">10月份：</text></g>
<g id="f101" class="n" transform="translate(553,6945)"><rect width="283" height="47.8"/><text x="7" y="20"><tspan x="7">1、认真做好团的各项日常工作，定期召开团</tspan><tspan x="7" dy="17.4">干部例会；了解各班团的工作进展情况。</tspan></text></g>
<g id="f102" class="n" transform="translate(553,7022)"><rect width="283" height="65.2"/><text x="7" y="20"><tspan x="7">2、对我校各班级主要干部进行培训，提高大</tspan><tspan x="7" dy="17.4">家的工作组织能力，为更好做好我校各项学生</tspan><tspan x="7" dy="17.4">工作打下基础。</tspan></text></g>
<g id="f103" class="n" transform="translate(553,7116)"><rect width="283" height="47.8"/><text x="7" y="20"><tspan x="7">3、积极配合体育组做好校运动会的宣传，服</tspan><tspan x="7" dy="17.4">务工作。</tspan></text></g>
<g id="f104" class="n" transform="translate(640,7193)"><rect width="196" height="30.4"/><text x="7" y="20">4、初一年级少先队建队活动。</text></g>
<g id="f11" class="n" transform="translate(863,7365)"><rect width="69" height="30.4"/><text x="7" y="20">11月份：</text></g>
<g id="f111" class="n" transform="translate(553,7254)"><rect width="283" height="47.8"/><text x="7" y="20"><tspan x="7">1、继续落实团的各项日常工作，并对各班团</tspan><tspan x="7" dy="17.4">的工作督促，检查。</tspan></text></g>
<g id="f112" class="n" transform="translate(553,7330)"><rect width="283" height="47.8"/><text x="7" y="20"><tspan x="7">2、积极配合体育组做好校运动会的宣传，服</tspan><tspan x="7" dy="17.4">务工作。</tspan></text></g>
<g id="f113" class="n" transform="translate(613,7408)"><rect width="223" height="30.4"/><text x="7" y="20">3、新团员培训、考试、宣誓仪式。</text></g>
<g id="f114" class="n" transform="translate(653,7469)"><rect width="183" height="30.4"/><text x="7" y="20">4、组织第一届社团节活动。</text></g>
<g id="f12" class="n" transform="translate(863,7641)"><rect width="69" height="30.4"/><text x="7" y="20">12月份：</text></g>
<g id="f121" class="n" transform="translate(553,7529)"><rect width="283" height="47.8"/><text x="7" y="20"><tspan x="7">1、进行"班级之星""百佳学生"等校园之星评</tspan><tspan x="7" dy="17.4">选活动。</tspan></text></g>
<g id="f122" class="n" transform="translate(640,7606)"><rect width="196" height="30.4"/><text x="7" y="20">2、举行迎新年元旦文艺晚会。</text></g>
<g id="f123" class="n" transform="translate(553,7666)"><rect width="283" height="47.8"/><text x="7" y="20"><tspan x="7">3、在落实好团的各项日常工作的基础上，认</tspan><tspan x="7" dy="17.4">真做好所有团员的民主评议活动。</tspan></text></g>
<g id="f124" class="n" transform="translate(613,7744)"><rect width="223" height="30.4"/><text x="7" y="20">4、对我校各班级团支部工作总评。</text></g>
<g id="f1" class="n" transform="translate(884,7842)"><rect width="48" height="30.4"/><text x="7" y="20">1月：</text></g>
<g id="f1a" class="n" transform="translate(689,7804)"><rect width="168" height="30.4"/><text x="7" y="20">1、各部门做好总结工作。</text></g>
<g id="f1b" class="n" transform="translate(716,7881)"><rect width="141" height="30.4"/><text x="7" y="20">2、部署下学期工作。</text></g>
<g id="f1c" class="n" transform="translate(406,7864)"><rect width="283" height="65.2"/><text x="7" y="20"><tspan x="7">以上活动基本上按制定计划执行，若学校、上</tspan><tspan x="7" dy="17.4">级团委另有任务安排，则以学校、上级团委的</tspan><tspan x="7" dy="17.4">要求来执行。</tspan></text></g>
</g>
</svg>
